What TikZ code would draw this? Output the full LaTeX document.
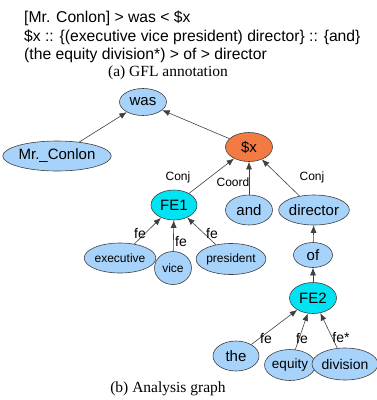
\documentclass[tikz,border=0pt]{standalone}
\usepackage{fontspec}
\setmainfont{Liberation Sans}
\newfontfamily\capfont{Liberation Serif}
\usepackage{tikz}
\usetikzlibrary{shapes.geometric,arrows.meta}
\definecolor{wordblue}{HTML}{A7D3FA}
\definecolor{varorange}{HTML}{F47A44}
\definecolor{fecyan}{HTML}{00E3F2}

\begin{document}
\begin{tikzpicture}[x=1pt, y=-1pt,
    word/.style={ellipse, draw=black!75, line width=0.6pt, fill=wordblue,
                 inner sep=0pt, font=\fontsize{15}{18}\selectfont},
    small/.style={font=\fontsize{12}{14}\selectfont},
    arr/.style={-{Latex[length=7.5pt,width=6pt]}, draw=black!75, line width=0.6pt},
    lbl/.style={inner sep=0pt, font=\fontsize{12}{14}\selectfont},
    felbl/.style={inner sep=0pt, font=\fontsize{14}{16}\selectfont},
    gfl/.style={anchor=base west, inner sep=0pt, font=\fontsize{15.7}{18}\selectfont}]
    \useasboundingbox (0,0) rectangle (377,400);

    % GFL annotation
    \node[gfl] (gflA) at (24,22) {[Mr. Conlon] > was < \$x};
    \node[gfl] (gflB) at (24,41) {\$x :: \{(executive vice president) director\} :: \{and\}};
    \node[gfl] (gflC) at (24,59) {(the equity division*) > of > director};
    \node[inner sep=0pt, font=\capfont\fontsize{15.5}{18}\selectfont] (capA) at (168,73) {(a) GFL annotation};

    % Nodes
    \node[word, minimum width=47, minimum height=27] (was) at (143,102) {was};
    \node[word, minimum width=93, minimum height=30] (conlon) at (57,156) {Mr.\_Conlon};
    \node[word, fill=varorange, minimum width=47, minimum height=29] (x) at (249,147) {\$x};
    \node[word, fill=fecyan, minimum width=46, minimum height=30] (fe1) at (174,205) {FE1};
    \node[word, minimum width=47, minimum height=30] (and) at (249,210) {and};
    \node[word, minimum width=62, minimum height=30] (director) at (314,210) {director};
    \node[word, small, minimum width=62, minimum height=30] (executive) at (120,258) {executive};
    \node[word, small, minimum width=37, minimum height=33] (vice) at (173,268) {vice};
    \node[word, small, minimum width=65, minimum height=31] (president) at (231,259) {president};
    \node[word, minimum width=39, minimum height=25] (of) at (313,255) {of};
    \node[word, fill=fecyan, minimum width=47, minimum height=31] (fe2) at (313,298) {FE2};
    \node[word, minimum width=46, minimum height=30] (the) at (236,356) {the};
    \node[word, font=\fontsize{13.5}{16}\selectfont, minimum width=38, minimum height=31] (equity) at (290,365) {equity};
    \node[word, font=\fontsize{14}{16}\selectfont, minimum width=62, minimum height=32] (division) at (345,364) {division};

    % Edges
    \draw[arr] (conlon) -- (was);
    \draw[arr] (x) -- (was);
    \draw[arr] (fe1) -- (x);
    \draw[arr] (and) -- (x);
    \draw[arr] (director) -- (x);
    \draw[arr] (executive) -- (fe1);
    \draw[arr] (vice) -- (fe1);
    \draw[arr] (president) -- (fe1);
    \draw[arr] (of) -- (director);
    \draw[arr] (fe2) -- (of);
    \draw[arr] (the) -- (fe2);
    \draw[arr] (equity) -- (fe2);
    \draw[arr] (division) -- (fe2);

    % Edge labels
    \node[lbl] (conjA) at (178,177) {Conj};
    \node[lbl] (coord) at (233,182) {Coord};
    \node[lbl] (conjB) at (312,177) {Conj};
    \node[felbl] (feA) at (140,233) {fe};
    \node[felbl] (feB) at (181,241) {fe};
    \node[felbl] (feC) at (212,233) {fe};
    \node[felbl] (feD) at (266,338) {fe};
    \node[felbl] (feE) at (302,338) {fe};
    \node[felbl] (feF) at (341,337) {fe*};

    \node[inner sep=0pt, font=\capfont\fontsize{15.5}{18}\selectfont] (capB) at (168,389) {(b) Analysis graph};
\end{tikzpicture}
\end{document}
